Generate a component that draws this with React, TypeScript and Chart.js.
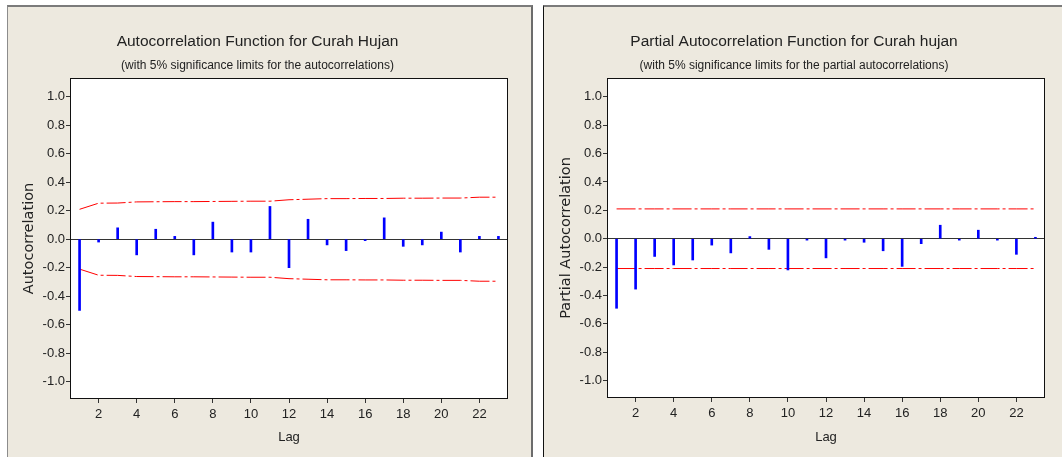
import React, { useEffect, useRef } from "react";
import { Chart, registerables } from "chart.js";

Chart.register(...registerables);

// Lags shown on the horizontal axis
const lags = [1, 2, 3, 4, 5, 6, 7, 8, 9, 10, 11, 12, 13, 14, 15, 16, 17, 18, 19, 20, 21, 22, 23];
const lagTicks = [2, 4, 6, 8, 10, 12, 14, 16, 18, 20, 22];
const correlationTicks = [-1.0, -0.8, -0.6, -0.4, -0.2, 0.0, 0.2, 0.4, 0.6, 0.8, 1.0];

// Autocorrelations of Curah Hujan and their 5% significance limits
const acfValues = [
  -0.5, -0.02, 0.08, -0.11, 0.07, 0.02, -0.11, 0.12, -0.09, -0.09, 0.23, -0.2,
  0.14, -0.04, -0.08, -0.01, 0.15, -0.05, -0.04, 0.05, -0.09, 0.02, 0.02,
];
const acfUpper = [
  0.21, 0.253, 0.254, 0.262, 0.263, 0.264, 0.264, 0.265, 0.266, 0.267, 0.267, 0.277,
  0.281, 0.285, 0.285, 0.286, 0.286, 0.288, 0.288, 0.289, 0.289, 0.295, 0.295,
];
const acfLower = [
  -0.21, -0.253, -0.254, -0.262, -0.263, -0.264, -0.264, -0.265, -0.266, -0.267, -0.267, -0.277,
  -0.281, -0.285, -0.285, -0.286, -0.286, -0.288, -0.288, -0.289, -0.289, -0.295, -0.295,
];

// Partial autocorrelations and their (constant) 5% significance limits
const pacfValues = [
  -0.49, -0.355, -0.125, -0.185, -0.15, -0.045, -0.1, 0.015, -0.075, -0.22, -0.01, -0.135,
  -0.01, -0.025, -0.085, -0.195, -0.035, 0.095, -0.01, 0.06, -0.01, -0.11, 0.01,
];
const pacfUpper = [
  0.21, 0.21, 0.21, 0.21, 0.21, 0.21, 0.21, 0.21, 0.21, 0.21, 0.21, 0.21,
  0.21, 0.21, 0.21, 0.21, 0.21, 0.21, 0.21, 0.21, 0.21, 0.21, 0.21,
];
const pacfLower = [
  -0.21, -0.21, -0.21, -0.21, -0.21, -0.21, -0.21, -0.21, -0.21, -0.21, -0.21, -0.21,
  -0.21, -0.21, -0.21, -0.21, -0.21, -0.21, -0.21, -0.21, -0.21, -0.21, -0.21,
];

const PANEL_BG = "#EDE9DF";
const TEXT = "#222222";
const SANS = "'Liberation Sans', Arial, sans-serif";
const AXIS_TITLE_FONT = "'DejaVu Sans', Verdana, sans-serif";

const toPoints = (ys: number[]) => lags.map((x, i) => ({ x, y: ys[i] }));

// White plotting area with a thin black frame around it
const plotFrame = {
  id: "plotFrame",
  beforeDraw(chart: any) {
    const { ctx, chartArea } = chart;
    const { left, top, right, bottom } = chartArea;
    ctx.save();
    ctx.fillStyle = "#ffffff";
    ctx.fillRect(left, top, right - left, bottom - top);
    ctx.restore();
  },
  afterDraw(chart: any) {
    const { ctx, chartArea } = chart;
    const { left, top, right, bottom } = chartArea;
    ctx.save();
    ctx.strokeStyle = "#111111";
    ctx.lineWidth = 1;
    ctx.strokeRect(left - 0.5, top - 0.5, right - left + 1, bottom - top + 1);
    ctx.restore();
  },
};

type CorrelogramProps = {
  left: number;
  top: number;
  width: number;
  height: number;
  title: string;
  subtitle: string;
  yTitle: string;
  values: number[];
  upper: number[];
  lower: number[];
  yAxisWidth: number;
  xAxisHeight: number;
  rightPad: number;
  yTitlePad: number;
};

function Correlogram(p: CorrelogramProps) {
  const ref = useRef<HTMLCanvasElement>(null);

  useEffect(() => {
    if (!ref.current) return;
    const limitStyle = {
      type: "line" as const,
      borderColor: "#ff0000",
      borderWidth: 1,
      borderDash: [19, 3, 3, 3],
      pointRadius: 0,
      fill: false,
      tension: 0,
    };
    const chart = new Chart(ref.current, {
      type: "bar",
      data: {
        datasets: [
          {
            type: "bar",
            data: toPoints(p.values),
            backgroundColor: "#0000ff",
            borderWidth: 0,
            barThickness: 2,
          } as any,
          { ...limitStyle, data: toPoints(p.upper) } as any,
          { ...limitStyle, data: toPoints(p.lower) } as any,
        ],
      },
      plugins: [plotFrame],
      options: {
        responsive: false,
        animation: false,
        events: [],
        layout: { padding: { left: 0, right: p.rightPad, top: 0, bottom: 0 } },
        plugins: {
          legend: { display: false },
          tooltip: { enabled: false },
          title: {
            display: true,
            text: p.title,
            color: TEXT,
            font: { family: SANS, size: 15.5, weight: "normal" },
            padding: { top: 25, bottom: 0 },
          },
          subtitle: {
            display: true,
            text: p.subtitle,
            color: TEXT,
            font: { family: SANS, size: 12, weight: "normal" },
            padding: { top: 8, bottom: 6 },
          },
        },
        scales: {
          x: {
            type: "linear",
            min: 0.55,
            max: 23.45,
            offset: false,
            afterBuildTicks: (scale: any) => {
              scale.ticks = lagTicks.map((v) => ({ value: v }));
            },
            afterFit: (scale: any) => {
              scale.height = p.xAxisHeight;
            },
            ticks: {
              autoSkip: false,
              maxRotation: 0,
              padding: 4,
              color: TEXT,
              font: { family: SANS, size: 13 },
              callback: (v: any) => String(v),
            },
            grid: {
              offset: false,
              drawOnChartArea: false,
              drawTicks: true,
              tickLength: 5,
              tickColor: "#333333",
            },
            border: { display: false },
            title: {
              display: true,
              text: "Lag",
              color: TEXT,
              font: { family: SANS, size: 13 },
              padding: { top: 0, bottom: 12 },
            },
          },
          y: {
            type: "linear",
            min: -1.115,
            max: 1.125,
            afterBuildTicks: (scale: any) => {
              scale.ticks = correlationTicks.map((v) => ({ value: v }));
            },
            afterFit: (scale: any) => {
              scale.width = p.yAxisWidth;
            },
            ticks: {
              padding: 1,
              color: TEXT,
              font: { family: SANS, size: 13 },
              callback: (v: any) => Number(v).toFixed(1),
            },
            grid: {
              drawOnChartArea: true,
              drawTicks: true,
              tickLength: 5,
              tickColor: "#333333",
              color: (c: any) =>
                c.tick && Math.abs(c.tick.value) < 1e-9 ? "#333333" : "rgba(0,0,0,0)",
            },
            border: { display: false },
            title: {
              display: true,
              text: p.yTitle,
              color: TEXT,
              font: { family: AXIS_TITLE_FONT, size: 14.5 },
              padding: { top: p.yTitlePad, bottom: 0 },
            },
          },
        },
      } as any,
    });
    return () => chart.destroy();
  }, []);

  return (
    <canvas
      ref={ref}
      width={p.width}
      height={p.height}
      style={{
        position: "absolute",
        left: p.left,
        top: p.top,
        width: p.width,
        height: p.height,
      }}
    />
  );
}

export default function App() {
  return (
    <div
      style={{
        position: "fixed",
        left: 0,
        top: 0,
        width: 1062,
        height: 457,
        background: "#ffffff",
        overflow: "hidden",
      }}
    >
      <div
        style={{
          position: "absolute",
          left: 7,
          top: 5,
          width: 526,
          height: 470,
          boxSizing: "border-box",
          background: PANEL_BG,
          borderTop: "2px solid #7b7b7b",
          borderLeft: "1px solid #8c8c8c",
          borderRight: "2px solid #6c6c6c",
        }}
      />
      <div
        style={{
          position: "absolute",
          left: 543,
          top: 5,
          width: 540,
          height: 470,
          boxSizing: "border-box",
          background: PANEL_BG,
          borderTop: "2px solid #7b7b7b",
          borderLeft: "1px solid #111111",
        }}
      />
      <Correlogram
        left={8}
        top={7}
        width={523}
        height={450}
        title="Autocorrelation Function for Curah Hujan"
        subtitle="(with 5% significance limits for the autocorrelations)"
        yTitle="Autocorrelation"
        values={acfValues}
        upper={acfUpper}
        lower={acfLower}
        yAxisWidth={63}
        xAxisHeight={59}
        rightPad={24}
        yTitlePad={13}
      />
      <Correlogram
        left={544}
        top={7}
        width={525}
        height={450}
        title="Partial Autocorrelation Function for Curah hujan"
        subtitle="(with 5% significance limits for the partial autocorrelations)"
        yTitle="Partial Autocorrelation"
        values={pacfValues}
        upper={pacfUpper}
        lower={pacfLower}
        yAxisWidth={64}
        xAxisHeight={60}
        rightPad={25}
        yTitlePad={14}
      />
    </div>
  );
}
